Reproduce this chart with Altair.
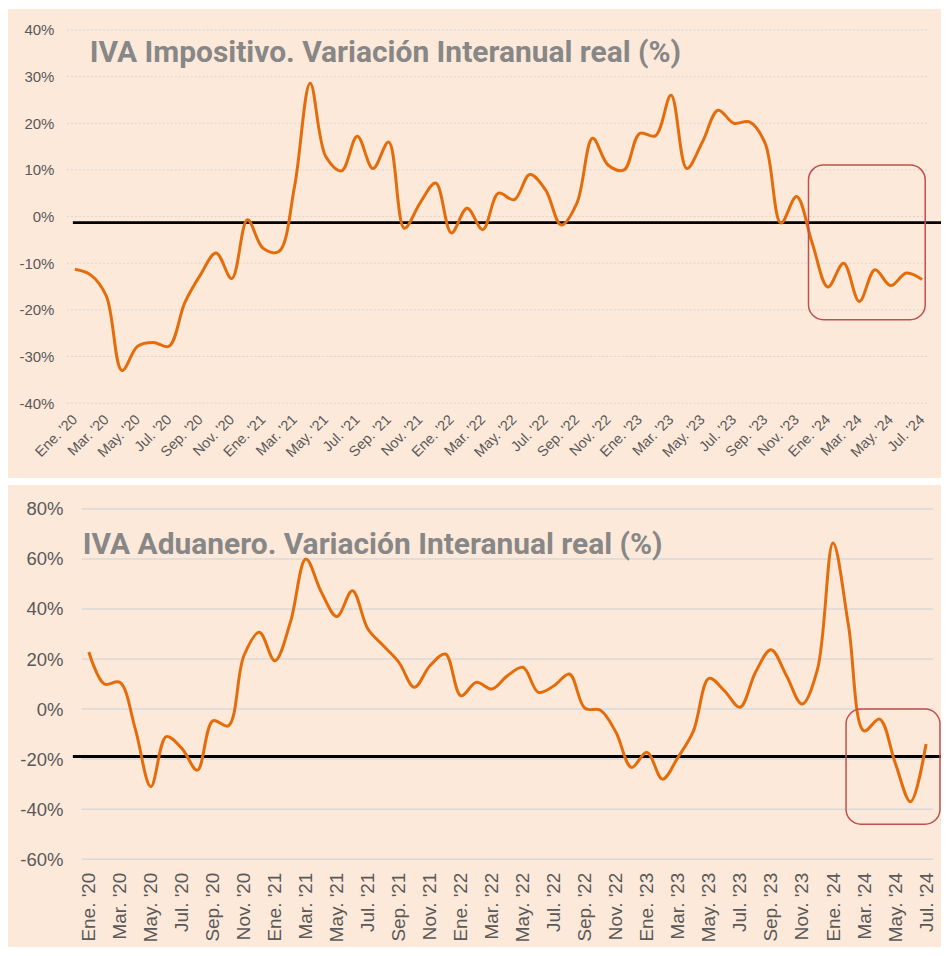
import json
import altair as alt
import pandas as pd

# ---------------- data ----------------
meses = ["Ene.", "Feb.", "Mar.", "Abr.", "May.", "Jun.", "Jul.", "Ago.", "Sep.", "Oct.", "Nov.", "Dic."]
anios = ["20", "21", "22", "23", "24"]
etiquetas = [f"{m} '{a}" for a in anios for m in meses][:55]   # Ene. '20 ... Jul. '24

iva_impositivo = [-11.3, -12.5, -17.0, -33.0, -27.8, -27.0, -27.8, -18.5, -12.5, -7.8,
                  -13.3, -0.7, -6.8, -7.5, 6.4, 28.6, 12.8, 9.8, 17.2, 10.3,
                  16.0, -2.5, 2.9, 7.2, -3.5, 1.8, -2.8, 5.0, 3.6, 9.0,
                  5.7, -1.8, 2.9, 16.8, 11.0, 10.0, 17.8, 17.3, 26.0, 10.3,
                  16.0, 22.8, 20.0, 20.3, 15.7, -1.4, 4.3, -5.7, -15.1, -10.0,
                  -18.2, -11.4, -14.8, -12.1, -13.5]

iva_aduanero = [22.8, 10.0, 10.7, -8.0, -31.0, -11.0, -15.7, -24.4, -4.7, -6.7,
                21.3, 30.7, 19.3, 34.7, 60.0, 46.7, 37.0, 47.3, 32.0, 25.3,
                18.7, 8.7, 17.3, 22.0, 5.3, 10.7, 8.0, 13.3, 16.7, 6.7,
                9.3, 14.0, 0.3, -0.5, -9.3, -23.3, -17.3, -28.0, -19.3, -8.7,
                12.3, 7.3, 0.7, 14.7, 23.7, 13.3, 2.0, 16.0, 66.4, 33.3,
                -8.7, -4.0, -21.3, -37.0, -14.0]

limite_impositivo = -1.3
limite_aduanero = -19.0

ticks_impositivo = [-40, -30, -20, -10, 0, 10, 20, 30, 40]
ticks_aduanero = [-60, -40, -20, 0, 20, 40, 60, 80]

# highlighted region (month index from, to ; value from, to)
caja_impositivo = [46.76, 54.2, 11.05, -22.1]
caja_aduanero = [48.84, 54.9, 0.0, -46.0]

titulo_impositivo = "IVA Impositivo. Variación Interanual real (%)"
titulo_aduanero = "IVA Aduanero. Variación Interanual real (%)"

# ---------------- styles ----------------
FONDO = "#FDE9D9"
NARANJA = "#E46C0A"
ROJO = "#C0504D"
GRIS_TXT = "#595959"
GRIS_TIT = "#878787"

label_expr_x = json.dumps(etiquetas) + "[datum.value]"


def panel(valores, limite, ticks, caja, titulo, W, H, xdom, xrange, bg, rule_x, tit_xy,
          grid_dash, grid_color, grid_w, yfs, xfs, xangle, xpad, ypad):
    df = pd.DataFrame({"i": list(range(len(valores))), "v": valores})
    xs = alt.Scale(domain=xdom, range=xrange, nice=False, zero=False)
    ys = alt.Scale(domain=[ticks[0], ticks[-1]], nice=False, zero=False)

    xaxis = alt.Axis(values=list(range(0, len(valores), 2)), labelExpr=label_expr_x,
                     labelAngle=xangle, labelAlign="right", labelBaseline="middle",
                     labelPadding=xpad, labelFont="Liberation Sans",
                     labelFontSize=xfs, labelColor=GRIS_TXT, labelFlush=False,
                     labelOverlap=False, ticks=False, domain=False, grid=False,
                     title=None, zindex=1)
    yaxis = alt.Axis(values=ticks, labelExpr="datum.value + '%'",
                     labelPadding=ypad, labelFont="Liberation Sans",
                     labelFontSize=yfs, labelColor=GRIS_TXT, labelFlush=False,
                     labelOverlap=False, ticks=False, domain=False, grid=False,
                     title=None, zindex=1)

    one = pd.DataFrame({"k": [0]})

    fondo = alt.Chart(one).mark_rect(color=bg["color"]).encode(
        x=alt.value(bg["x"]), x2=alt.value(W + bg["x2"]),
        y=alt.value(bg["y"]), y2=alt.value(H + bg["y2"]))

    grid = alt.Chart(pd.DataFrame({"t": ticks})).mark_rule(
        color=grid_color, strokeWidth=grid_w, strokeDash=grid_dash).encode(
        y=alt.Y("t:Q", scale=ys, axis=yaxis),
        x=alt.value(xrange[0]), x2=alt.value(xrange[1]))

    tit = alt.Chart(one).mark_text(
        align="left", baseline="alphabetic", font="Roboto", fontWeight="bold",
        fontSize=30, color=GRIS_TIT).encode(
        x=alt.value(tit_xy[0]), y=alt.value(tit_xy[1]), text=alt.value(titulo))

    regla = alt.Chart(pd.DataFrame({"v": [limite]})).mark_rule(
        color="black", strokeWidth=3).encode(
        y=alt.Y("v:Q", scale=ys, axis=yaxis),
        x=alt.value(rule_x[0]), x2=alt.value(W + rule_x[1]))

    linea = alt.Chart(df).mark_line(
        interpolate="catmull-rom", color=NARANJA, strokeWidth=3).encode(
        x=alt.X("i:Q", scale=xs, axis=xaxis),
        y=alt.Y("v:Q", scale=ys, axis=yaxis))

    box = alt.Chart(pd.DataFrame({"x0": [caja[0]], "x1": [caja[1]],
                                  "y0": [caja[2]], "y1": [caja[3]]})).mark_rect(
        fillOpacity=0, stroke=ROJO, strokeWidth=1.5, cornerRadius=15, clip=False).encode(
        x=alt.X("x0:Q", scale=xs, axis=xaxis), x2="x1:Q",
        y=alt.Y("y0:Q", scale=ys, axis=yaxis), y2="y1:Q")

    return alt.layer(fondo, grid, tit, regla, linea, box).properties(width=W, height=H)


# both panels share the same plot origin (page x = 67)
W1, H1 = 863, 374
top = panel(iva_impositivo, limite_impositivo, ticks_impositivo, caja_impositivo,
            titulo_impositivo, W1, H1, [-0.51, 54.38], [0, W1],
            {"color": FONDO, "x": -59, "x2": 13, "y": -21, "y2": 75},
            [6, 13], [23, 32], [2, 2], "#d6d6d6", 1, 15, 14.5, -45, 14, 13)

W2, H2 = 868, 351
bottom = panel(iva_aduanero, limite_aduanero, ticks_aduanero, caja_aduanero,
               titulo_aduanero, W2, H2, [-0.45, 54.45], [15, 868],
               {"color": FONDO, "x": -59, "x2": 8, "y": -24, "y2": 88},
               [6, 8], [16, 45], [1, 0], "#d9d9d9", 1.5, 18.5, 19, -90, 13, 4)

chart = alt.vconcat(top, bottom, spacing=7).properties(
    padding=0, background="white").configure_view(strokeWidth=0)

chart.save("out.html", embed_options={"renderer": "svg", "actions": False})
